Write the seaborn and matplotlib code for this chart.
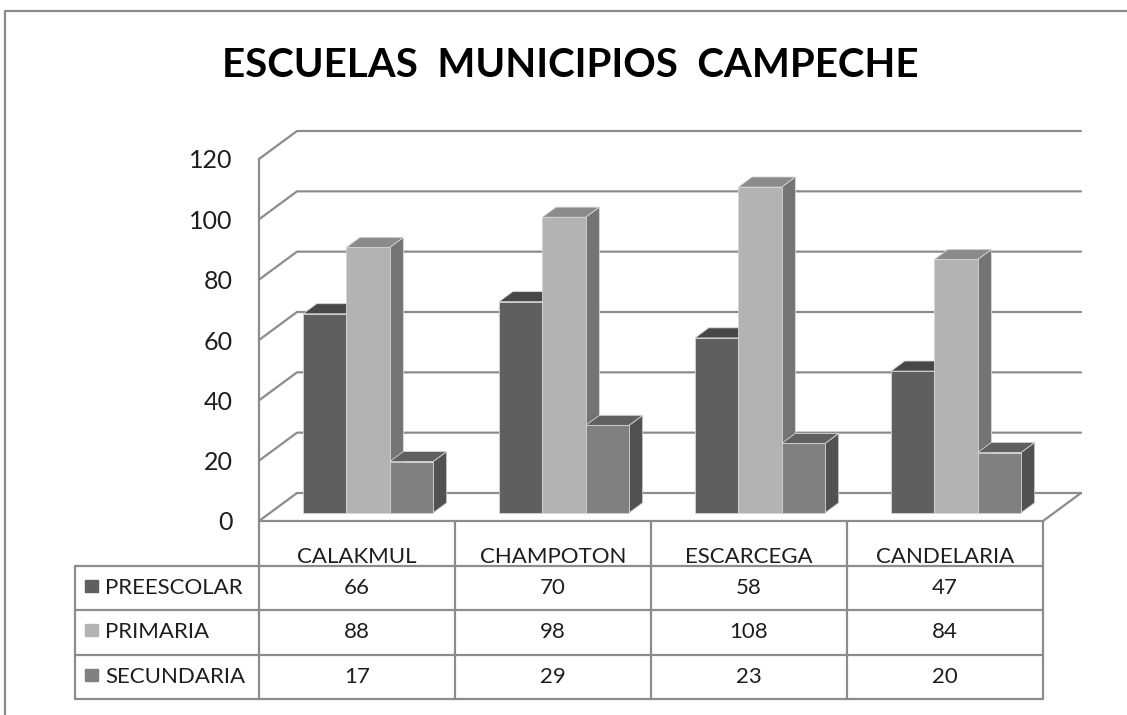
import numpy as np
import pandas as pd
import matplotlib
matplotlib.use("Agg")
import matplotlib.pyplot as plt
from matplotlib.patches import Polygon, Rectangle
from matplotlib.lines import Line2D
import seaborn as sns

municipios = ["CALAKMUL", "CHAMPOTON", "ESCARCEGA", "CANDELARIA"]
niveles = ["PREESCOLAR", "PRIMARIA", "SECUNDARIA"]
preescolar = [66, 70, 58, 47]
primaria = [88, 98, 108, 84]
secundaria = [17, 29, 23, 20]
y_ticks = [0, 20, 40, 60, 80, 100, 120]
titulo = "ESCUELAS  MUNICIPIOS  CAMPECHE"

colores_frente = ["#5f5f5f", "#b3b3b3", "#808080"]
colores_arriba = ["#474747", "#8b8b8b", "#606060"]
colores_lado = ["#3c3c3c", "#747474", "#515151"]
gris = "#8c8c8c"

sns.set_style("white")
plt.rcParams["font.family"] = ["Lato", "DejaVu Sans"]

W, H = 1127, 715
fig = plt.figure(figsize=(W / 100, H / 100), dpi=100)


def fx(px):
    return px / W


def fy(py):
    return 1 - py / H


# front plane of the 3d box, in pixels
X0, X1, Y0, Y1 = 259, 1043, 521, 159
ax = fig.add_axes([fx(X0), fy(Y0), (X1 - X0) / W, (Y0 - Y1) / H])
ux = (X1 - X0) / 4
uy = (Y0 - Y1) / 120
DX, DY = 38 / ux, 28 / uy  # depth of the box in data units

df = pd.DataFrame({
    "municipio": municipios * 3,
    "nivel": np.repeat(niveles, len(municipios)),
    "escuelas": preescolar + primaria + secundaria,
})
sns.barplot(data=df, x="municipio", y="escuelas", hue="nivel",
            order=municipios, hue_order=niveles, palette=colores_frente,
            width=0.663, saturation=1, edgecolor="#d4d4d4", linewidth=0.6,
            legend=False, ax=ax, zorder=3)

ax.set_xlim(-0.5, 3.5)
ax.set_ylim(0, 120)

# walls: back wall gridlines + left wall diagonals
grid_kw = dict(color=gris, lw=1.6, clip_on=False, zorder=1)
for v in y_ticks:
    ax.plot([-0.5, -0.5 + DX, 3.5 + DX], [v, v + DY, v + DY], **grid_kw)
ax.plot([-0.5, -0.5], [0, 120], **grid_kw)
ax.plot([3.5, 3.5 + DX], [0, DY], **grid_kw)

# move bars into the box and give them tops and sides
f0, fd = 0.29, 0.36
for i, cont in enumerate(ax.containers):
    for bar in cont:
        w, h = bar.get_width(), bar.get_height()
        x0 = bar.get_x() + f0 * DX
        y0 = f0 * DY
        bar.set_x(x0)
        bar.set_y(y0)
        bar.set_clip_on(False)
        dx, dy = fd * DX, fd * DY
        top = Polygon([(x0, y0 + h), (x0 + w, y0 + h), (x0 + w + dx, y0 + h + dy), (x0 + dx, y0 + h + dy)],
                      closed=True, facecolor=colores_arriba[i], edgecolor="#d4d4d4", lw=0.6,
                      zorder=2, clip_on=False)
        side = Polygon([(x0 + w, y0), (x0 + w + dx, y0 + dy), (x0 + w + dx, y0 + h + dy), (x0 + w, y0 + h)],
                       closed=True, facecolor=colores_lado[i], edgecolor="#d4d4d4", lw=0.6,
                       zorder=2, clip_on=False)
        ax.add_patch(side)
        ax.add_patch(top)

ax.set_yticks(y_ticks)
ax.set_xticks([])
ax.set_xlabel("")
ax.set_ylabel("")
ax.tick_params(axis="y", length=0, pad=19, labelsize=18, labelcolor="#1e1e1e")
sns.despine(ax=ax, left=True, bottom=True)
ax.patch.set_alpha(0)

# data table under the chart
TL, TB = 75, 699
tab = fig.add_axes([fx(TL), fy(TB), (X1 - TL) / W, (TB - Y0) / H])
xl = -0.5 - (X0 - TL) / ux
tab.set_xlim(xl, 3.5)
tab.set_ylim(4, 0)
tab.axis("off")
line_kw = dict(color=gris, lw=1.6, clip_on=False)
tab.plot([-0.5, 3.5], [0, 0], **line_kw)
for r in [1, 2, 3, 4]:
    tab.plot([xl, 3.5], [r, r], **line_kw)
tab.plot([xl, xl], [1, 4], **line_kw)
for c in [-0.5, 0.5, 1.5, 2.5, 3.5]:
    tab.plot([c, c], [0, 4], **line_kw)

txt_kw = dict(fontsize=16, color="#1e1e1e", va="baseline")
for j, m in enumerate(municipios):
    tab.text(j, 0.94, m, ha="center", **txt_kw)
for i, (nivel, vals) in enumerate(zip(niveles, [preescolar, primaria, secundaria])):
    r = i + 1
    tab.add_patch(Rectangle((xl + 10 / ux, r + 0.32), 13 / ux, 0.27, color=colores_frente[i]))
    tab.text(xl + 30 / ux, r + 0.64, nivel, ha="left", **txt_kw)
    for j, v in enumerate(vals):
        tab.text(j, r + 0.64, str(v), ha="center", **txt_kw)

# outer frame (top and left visible)
fig.add_artist(Line2D([fx(5), fx(5), 1], [0, fy(11), fy(11)],
                      transform=fig.transFigure, color="#8a8a8a", lw=1.6))

fig.text(fx(570), fy(77), titulo, ha="center", va="baseline",
         fontsize=29, fontweight="bold", color="black")

fig.savefig("out.png", dpi=100)
